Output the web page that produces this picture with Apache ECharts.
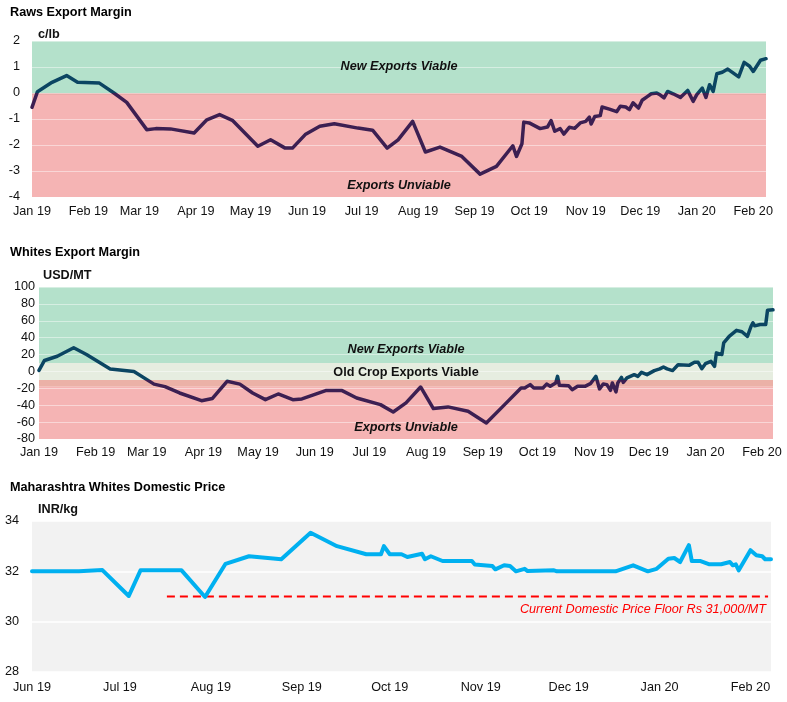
<!DOCTYPE html>
<html><head><meta charset="utf-8">
<script src="https://cdn.jsdelivr.net/npm/echarts@6/dist/echarts.min.js"></script>
<style>html,body{margin:0;padding:0;background:#fff}#c{width:787px;height:702px}</style>
</head><body><div id="c"></div>
<script>
// ---------- Data ----------
const monthNames = ['Jan','Feb','Mar','Apr','May','Jun','Jul','Aug','Sep','Oct','Nov','Dec'];

const rawsTicks = ['2019-01-01','2019-02-01','2019-03-01','2019-04-01','2019-05-01','2019-06-01','2019-07-01','2019-08-01','2019-09-01','2019-10-01','2019-11-01','2019-12-01','2020-01-01','2020-02-01'];
const whitesTicks = rawsTicks.slice();
const domTicks = ['2019-06-01','2019-07-01','2019-08-01','2019-09-01','2019-10-01','2019-11-01','2019-12-01','2020-01-01','2020-02-01'];

const rawsDates = ['2019-01-01','2019-01-04','2019-01-12','2019-01-20','2019-01-26','2019-02-07','2019-02-15','2019-02-22','2019-03-05','2019-03-10','2019-03-18','2019-03-31','2019-04-07','2019-04-14','2019-04-21','2019-05-05','2019-05-12','2019-05-20','2019-05-24','2019-05-31','2019-06-08','2019-06-16','2019-06-29','2019-07-07','2019-07-15','2019-07-21','2019-07-29','2019-08-05','2019-08-13','2019-08-25','2019-09-04','2019-09-13','2019-09-22','2019-09-24','2019-09-27','2019-09-28','2019-10-01','2019-10-07','2019-10-11','2019-10-13','2019-10-15','2019-10-18','2019-10-20','2019-10-23','2019-10-26','2019-10-29','2019-11-01','2019-11-03','2019-11-04','2019-11-06','2019-11-09','2019-11-10','2019-11-14','2019-11-18','2019-11-20','2019-11-23','2019-11-25','2019-11-27','2019-11-30','2019-12-02','2019-12-05','2019-12-07','2019-12-10','2019-12-12','2019-12-14','2019-12-16','2019-12-19','2019-12-23','2019-12-27','2019-12-30','2020-01-01','2020-01-04','2020-01-06','2020-01-08','2020-01-10','2020-01-12','2020-01-15','2020-01-18','2020-01-24','2020-01-27','2020-01-30','2020-02-01','2020-02-05','2020-02-08'];
const rawsValues = [-0.55,0.05,0.41,0.67,0.41,0.38,0.0,-0.36,-1.41,-1.37,-1.38,-1.54,-1.03,-0.83,-1.05,-2.05,-1.8,-2.12,-2.12,-1.6,-1.28,-1.18,-1.35,-1.43,-2.12,-1.8,-1.09,-2.27,-2.08,-2.44,-3.12,-2.82,-2.03,-2.44,-1.95,-1.12,-1.15,-1.37,-1.31,-1.06,-1.47,-1.37,-1.58,-1.32,-1.36,-1.15,-1.09,-0.93,-1.19,-0.9,-0.87,-0.54,-0.62,-0.72,-0.51,-0.54,-0.64,-0.38,-0.58,-0.28,-0.13,-0.03,0.0,-0.08,-0.19,0.06,-0.03,-0.17,0.1,-0.32,-0.06,0.19,-0.17,0.32,0.06,0.74,0.8,0.92,0.62,1.18,1.03,0.83,1.26,1.32];

const whitesDates = ['2019-01-01','2019-01-04','2019-01-11','2019-01-20','2019-01-27','2019-02-09','2019-02-22','2019-03-05','2019-03-11','2019-03-19','2019-03-31','2019-04-06','2019-04-14','2019-04-21','2019-04-28','2019-05-05','2019-05-12','2019-05-20','2019-05-25','2019-06-07','2019-06-16','2019-06-24','2019-07-07','2019-07-14','2019-07-21','2019-07-29','2019-08-05','2019-08-13','2019-08-24','2019-09-03','2019-09-13','2019-09-22','2019-09-24','2019-09-27','2019-09-29','2019-10-04','2019-10-06','2019-10-08','2019-10-11','2019-10-12','2019-10-13','2019-10-18','2019-10-20','2019-10-23','2019-10-27','2019-10-30','2019-11-02','2019-11-04','2019-11-06','2019-11-08','2019-11-10','2019-11-11','2019-11-13','2019-11-14','2019-11-16','2019-11-17','2019-11-19','2019-11-20','2019-11-23','2019-11-25','2019-11-27','2019-11-30','2019-12-04','2019-12-07','2019-12-09','2019-12-11','2019-12-14','2019-12-17','2019-12-23','2019-12-26','2019-12-28','2019-12-30','2020-01-01','2020-01-04','2020-01-06','2020-01-07','2020-01-10','2020-01-11','2020-01-14','2020-01-18','2020-01-21','2020-01-24','2020-01-26','2020-01-27','2020-01-28','2020-01-31','2020-02-01','2020-02-03','2020-02-04','2020-02-07'];
const whitesValues = [1.3,13,18,28,20,3,0,-15,-18,-25.5,-34.6,-32,-11.7,-15,-25.5,-33.4,-26.7,-33.4,-32.6,-22.7,-22.7,-31.4,-39.3,-48,-37.3,-18.4,-44,-42,-47.2,-61,-39.3,-19.6,-19.6,-15.6,-19.6,-19.6,-15,-17.6,-13.6,-5.8,-16.4,-16.8,-21.6,-17.6,-17.6,-14.5,-5.8,-20.7,-14.8,-15.6,-22.4,-13.6,-24.3,-13.6,-7,-12.9,-7.7,-5.8,-3.8,-5.8,-1,-3.8,1,3,5.3,3,1,8,7.2,10.8,10.8,3.3,9.2,12,6,22,20,33.8,41.6,48.7,47,41.6,53.5,57.5,54,55.5,53.5,55.5,72.4,73];

const domDates = ['2019-06-01','2019-06-17','2019-06-25','2019-07-04','2019-07-08','2019-07-22','2019-07-30','2019-08-06','2019-08-14','2019-08-25','2019-09-04','2019-09-13','2019-09-23','2019-09-28','2019-09-29','2019-10-01','2019-10-05','2019-10-07','2019-10-12','2019-10-13','2019-10-15','2019-10-19','2019-10-29','2019-10-30','2019-11-05','2019-11-06','2019-11-09','2019-11-11','2019-11-13','2019-11-16','2019-11-17','2019-11-26','2019-11-27','2019-12-17','2019-12-23','2019-12-28','2019-12-31','2020-01-04','2020-01-06','2020-01-08','2020-01-11','2020-01-12','2020-01-15','2020-01-18','2020-01-22','2020-01-25','2020-01-26','2020-01-27','2020-01-28','2020-02-01','2020-02-03','2020-02-05','2020-02-06','2020-02-08'];
const domValues = [32.0,32.0,32.05,31.02,32.04,32.04,30.98,32.3,32.6,32.48,33.53,33.0,32.68,32.68,33.0,32.68,32.68,32.57,32.7,32.48,32.6,32.41,32.41,32.27,32.21,32.08,32.24,32.21,32.0,32.1,32.01,32.04,32.0,32.0,32.24,32.0,32.1,32.5,32.53,32.37,33.04,32.41,32.41,32.28,32.28,32.37,32.24,32.28,32.04,32.84,32.64,32.6,32.48,32.48];

const floorDates = ['2019-07-17','2020-02-07'];
const floorValues = [31, 31];
const floorLabel = 'Current Domestic Price Floor Rs 31,000/MT';

// Zone bands and their captions
const rawsZones = [{name: 'New Exports Viable', from: 0, to: 2}, {name: 'Exports Unviable', from: -4, to: 0}];
const rawsCaptions = [{text: 'New Exports Viable', y: 1, italic: true}, {text: 'Exports Unviable', y: -3.55, italic: true}];
const whitesZones = [{name: 'New Exports Viable', from: 10, to: 100}, {name: 'Old Crop Exports Viable', from: -10, to: 10}, {name: 'edge', from: -18, to: -10}, {name: 'Exports Unviable', from: -80, to: -18}];
const whitesCaptions = [{text: 'New Exports Viable', y: 26.5, italic: true}, {text: 'Old Crop Exports Viable', y: -1, italic: false}, {text: 'Exports Unviable', y: -66, italic: true}];

// ---------- Helpers ----------
function ts(s){ const p = s.split('-').map(Number); return new Date(p[0], p[1]-1, p[2]).getTime(); }
function zip(d, v){ return d.map((x,i)=>[ts(x), v[i]]); }
function monthLabel(val){ const d = new Date(val); return monthNames[d.getMonth()] + ' ' + String(d.getFullYear()).slice(2); }

const FONT = 'Liberation Sans, Arial, sans-serif';
const FS = 12.67;
const TXT = '#111';
const ZONE_COLORS = {'New Exports Viable': '#b4e1cb', 'Exports Unviable': '#f5b4b4', 'Old Crop Exports Viable': '#e6ede0', 'edge': '#ebb1a7'};
const ZEROLINE = '#e0a39d';
const TEAL = '#0b4562', PURPLE = '#3c1f52', BLUE = '#00b0f0';

const RAWS_MIN = '2019-01-01', RAWS_MAX = '2020-02-08';
const WH_MIN = '2019-01-01', WH_MAX = '2020-02-07';
const DOM_MIN = '2019-06-01', DOM_MAX = '2020-02-08';

function xAxisDef(gi, min, max, ticks, margin){
  return {
    type: 'value', gridIndex: gi, min: ts(min), max: ts(max), scale: true,
    axisLine: {show:false}, axisTick: {show:false}, splitLine: {show:false},
    axisLabel: {
      customValues: ticks.map(ts), formatter: monthLabel, margin: margin,
      color: TXT, fontSize: FS, fontFamily: FONT, hideOverlap: false
    }
  };
}
function yAxisDef(gi, min, max, interval, name, margin, nameGap, namePad, gridColor, gridWidth){
  return {
    type: 'value', gridIndex: gi, min: min, max: max, interval: interval, z: 3,
    name: name, nameLocation: 'end', nameGap: nameGap,
    nameTextStyle: {color: TXT, fontSize: FS, fontWeight: 'bold', fontFamily: FONT, align: 'left', padding: [0,0,0,namePad]},
    axisLine: {show:false}, axisTick: {show:false},
    splitLine: {show:true, lineStyle: {color: gridColor, width: gridWidth}},
    axisLabel: {color: TXT, fontSize: FS, fontFamily: FONT, margin: margin}
  };
}
function zoneAreas(zones){
  return zones.map(z => [{yAxis: z.from, itemStyle: {color: ZONE_COLORS[z.name]}}, {yAxis: z.to}]);
}
function captionPoints(caps, min, max){
  const mid = (ts(min) + ts(max)) / 2;
  return caps.map(c => ({
    coord: [mid, c.y], value: c.text,
    label: {show: true, position: 'inside', formatter: c.text, color: TXT, fontSize: FS, fontFamily: FONT,
            fontWeight: 'bold', fontStyle: c.italic ? 'italic' : 'normal'}
  }));
}

const option = {
  animation: false,
  backgroundColor: '#fff',
  title: [
    {text: 'Raws Export Margin', left: 10, top: 6},
    {text: 'Whites Export Margin', left: 10, top: 246},
    {text: 'Maharashtra Whites Domestic Price', left: 10, top: 481}
  ].map(t => Object.assign(t, {padding: 0, textStyle: {color: '#000', fontSize: FS, fontWeight: 'bold', fontFamily: FONT}})),
  grid: [
    {left: 32, right: 21, top: 41, height: 156, outerBoundsMode: 'none'},
    {left: 39, right: 14, top: 287, height: 152, outerBoundsMode: 'none'},
    {left: 32, right: 16, top: 521, height: 151, outerBoundsMode: 'none', show: true, backgroundColor: '#f2f2f2', borderWidth: 0}
  ],
  xAxis: [
    xAxisDef(0, RAWS_MIN, RAWS_MAX, rawsTicks, 8),
    xAxisDef(1, WH_MIN, WH_MAX, whitesTicks, 7),
    xAxisDef(2, DOM_MIN, DOM_MAX, domTicks, 9)
  ],
  yAxis: [
    yAxisDef(0, -4, 2, 1, 'c/lb', 12, 0, 6, 'rgba(255,255,255,0.45)', 1),
    yAxisDef(1, -80, 100, 20, 'USD/MT', 4, 5, 4, 'rgba(255,255,255,0.45)', 1),
    yAxisDef(2, 28, 34, 2, 'INR/kg', 13, 5, 6, '#ffffff', 1.5)
  ],
  visualMap: [
    {type: 'piecewise', show: false, seriesIndex: 1, dimension: 1,
     pieces: [{min: -100, max: 0, color: PURPLE}, {min: 0, max: 100, color: TEAL}]},
    {type: 'piecewise', show: false, seriesIndex: 3, dimension: 1,
     pieces: [{min: -1000, max: -10, color: PURPLE}, {min: -10, max: 1000, color: TEAL}]}
  ],
  series: [
    {
      name: 'bands1', type: 'line', xAxisIndex: 0, yAxisIndex: 0, data: [], z: 1, silent: true,
      markArea: {silent: true, label: {show: false},
        data: zoneAreas(rawsZones).concat([[{yAxis: -0.06, itemStyle: {color: ZEROLINE}}, {yAxis: 0}]])}
    },
    {
      name: 'Raws Export Margin', type: 'line', xAxisIndex: 0, yAxisIndex: 0, z: 4,
      data: zip(rawsDates, rawsValues), showSymbol: false,
      lineStyle: {width: 3.5, join: 'round', cap: 'round'},
      markPoint: {silent: true, symbol: 'circle', symbolSize: 0, data: captionPoints(rawsCaptions, RAWS_MIN, RAWS_MAX)}
    },
    {
      name: 'bands2', type: 'line', xAxisIndex: 1, yAxisIndex: 1, data: [], z: 1, silent: true,
      markArea: {silent: true, label: {show: false}, data: zoneAreas(whitesZones)}
    },
    {
      name: 'Whites Export Margin', type: 'line', xAxisIndex: 1, yAxisIndex: 1, z: 4,
      data: zip(whitesDates, whitesValues), showSymbol: false,
      lineStyle: {width: 3.5, join: 'round', cap: 'round'},
      markPoint: {silent: true, symbol: 'circle', symbolSize: 0, data: captionPoints(whitesCaptions, WH_MIN, WH_MAX)}
    },
    {
      name: 'Maharashtra Whites Domestic Price', type: 'line', xAxisIndex: 2, yAxisIndex: 2, z: 4,
      data: zip(domDates, domValues), showSymbol: false,
      lineStyle: {width: 4, color: BLUE, join: 'round', cap: 'round'}, itemStyle: {color: BLUE}
    },
    {
      name: 'Floor', type: 'line', xAxisIndex: 2, yAxisIndex: 2, z: 3,
      symbol: 'circle', symbolSize: 0, showSymbol: true,
      data: floorDates.map((d, i) => i === floorDates.length - 1
        ? {value: [ts(d), floorValues[i]], label: {show: true, position: 'bottom', align: 'right', distance: 5, offset: [-2, 1],
            formatter: floorLabel, color: '#ff0000', fontSize: FS, fontFamily: FONT, fontStyle: 'italic'}}
        : [ts(d), floorValues[i]]),
      lineStyle: {width: 2.2, color: '#ff0000', type: [8, 5]}, itemStyle: {color: '#ff0000'}
    }
  ]
};
const chart = echarts.init(document.getElementById('c'), null, {renderer: 'canvas'});
chart.setOption(option);
</script>
</body></html>
